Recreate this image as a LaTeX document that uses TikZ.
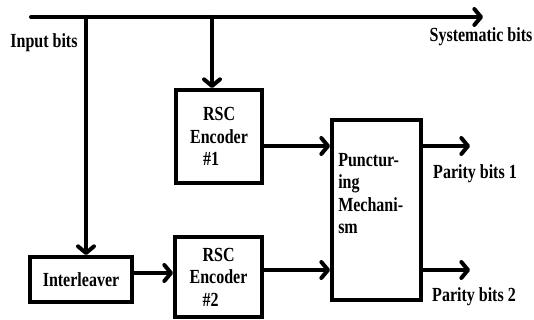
\documentclass[tikz,border=0pt]{standalone}
\usepackage{fontspec}
\setmainfont{Liberation Serif}[FakeStretch=0.8]
\usetikzlibrary{arrows.meta}
\begin{document}
\begin{tikzpicture}[x=0.75pt,y=-0.75pt,
  wire/.style={line width=3pt,line cap=round,line join=round},
  arr/.style={wire,-{Straight Barb[length=5pt,width=12pt,line cap=round,line join=round]}},
  box/.style={draw,line width=3pt,inner sep=0pt,align=left},
  lbl/.style={inner sep=0pt},
  every node/.style={font=\fontsize{15}{16.9}\selectfont\bfseries}]
\useasboundingbox (0,0) rectangle (534,320);
% boxes
\node[box,minimum width=64.5pt,minimum height=69.75pt] (rsc1) at (219,136.5)
  {\hspace{9.75pt}RSC\\Encoder\\\hspace{9.75pt}\#1\hspace{2pt}};
\node[box,minimum width=65.25pt,minimum height=60pt] (rsc2) at (218.5,277)
  {\hspace{9.75pt}RSC\\Encoder\\\hspace{9.75pt}\#2};
\node[box,minimum width=76.5pt,minimum height=33.75pt] (il) at (81,279.5) {Interleaver};
\node[box,minimum width=66.75pt,minimum height=135pt] (punct) at (376.5,210) {};
\node[lbl,align=left,anchor=north west] (ptext) at (338,153) {Punctur-\\ing\\Mechani-\\sm};
% coordinates
\coordinate (start) at (31,17);
\coordinate (sysend) at (483,17);
\coordinate (j1) at (86,17);
\coordinate (j2) at (212,17);
\coordinate (out1) at (470,146);
\coordinate (out2) at (470,270);
% connectors
\draw[arr] (start) -- (sysend);
\draw[arr] (j1) -- (j1 |- il.north);
\draw[arr] (j2) -- (j2 |- rsc1.north);
\draw[arr] (rsc1.east |- 0,146) -- (punct.west |- 0,146);
\draw[arr] (il.east |- 0,273) -- (rsc2.west |- 0,273);
\draw[arr] (rsc2.east |- 0,270) -- (punct.west |- 0,270);
\draw[arr] (punct.east |- out1) -- (out1);
\draw[arr] (punct.east |- out2) -- (out2);
% labels
\node[lbl] (inbits) at (44,43) {Input bits};
\node[lbl] (sysbits) at (481,37) {Systematic bits};
\node[lbl] (par1) at (475,174) {Parity bits 1};
\node[lbl] (par2) at (474,297) {Parity bits 2};
\end{tikzpicture}
\end{document}
